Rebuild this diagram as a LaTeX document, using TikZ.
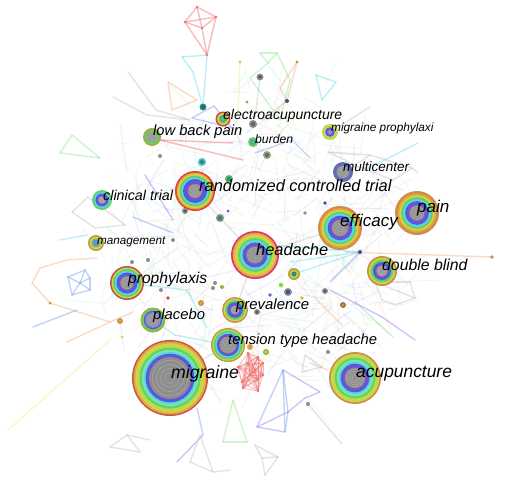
\documentclass[tikz,border=0pt]{standalone}
\usepackage{fontspec}
\setmainfont{Liberation Sans}
\definecolor{cbrown}{HTML}{B95A48}
\definecolor{cred}{HTML}{D8423A}
\definecolor{cmag}{HTML}{E0307A}
\definecolor{ctan}{HTML}{C8904A}
\definecolor{corange}{HTML}{EBA43C}
\definecolor{cyel}{HTML}{D6D248}
\definecolor{clime}{HTML}{B2DE50}
\definecolor{cgreen}{HTML}{62D262}
\definecolor{cmint}{HTML}{7CE6AA}
\definecolor{ccyan}{HTML}{5CD4E4}
\definecolor{csky}{HTML}{70A8F0}
\definecolor{cblue}{HTML}{4C5EDE}
\definecolor{cpurp}{HTML}{7A50D0}
\definecolor{clav}{HTML}{A68AD6}
\definecolor{cgray}{HTML}{8E8E8E}
\definecolor{cteal}{HTML}{2E8B78}
\definecolor{colive}{HTML}{A8A840}
\definecolor{cnavy}{HTML}{4A4A8A}
\definecolor{egray}{HTML}{C4C4C4}
\definecolor{ered}{HTML}{F06A6A}
\definecolor{ecyan}{HTML}{6EDCEE}
\definecolor{egreen}{HTML}{8EEA8E}
\definecolor{eorange}{HTML}{F3B384}
\definecolor{eblue}{HTML}{78A2F0}
\definecolor{epurp}{HTML}{9A7EF0}
\definecolor{eyel}{HTML}{EEEE8A}
\newcommand\kwdraw[4]{%
  \foreach \rf/\rcol in {#3}{\fill[\rcol] (#1.center) circle[radius={\rf*#2*1pt}];}
  \foreach \k in {0.85,0.65,0.45,0.25}{\draw[white,draw opacity=0.25,line width=0.5pt] (#1.center) circle[radius={\k*#4*#2*1pt}];}
}
\begin{document}
\begin{tikzpicture}[x=1pt,y=-1pt,
  edge/.style={line width=1.4pt, draw opacity=0.45, line cap=round, line join=round},
  haze/.style={line width=1pt, draw opacity=0.16, line cap=round},
  kw/.style={circle, inner sep=0pt, outer sep=0pt},
  kwtext/.style={font=\fontsize{#1}{#1}\selectfont\itshape, anchor=west, inner sep=0pt, text=black}]
\useasboundingbox (0,0) rectangle (510,487);
\fill[white] (0,0) rectangle (510,487);
% keyword nodes (placeholders)
\foreach \n/\x/\y/\r in {migraine/170/378/38, acup/355/378/26, tension/228/345/17, placebo/153/320/12.5,
  prophy/127/283/17, preval/235/310/13, dblind/382/271/15, headache/255/255/24, efficacy/340/228/22,
  pain/417/213/22, multi/343/172/10, migproph/330/132/8, rct/195/191/20, clinical/102/200/10,
  lbp/152/137/9, electro/223/119/7.5, burden/253/142/5, manage/96/243/8}
  {\node[kw,minimum size={2*\r}] (\n) at (\x,\y) {};}
% haze of faint links
\pgfmathdeclarerandomlist{hazecols}{{egray}{egray}{egray}{egray}{egray}{egreen}{ecyan}{eorange}{eblue}{epurp}{eyel}}
\pgfmathsetseed{4242}
\foreach \i in {1,...,520}{
  \pgfmathsetmacro\ang{360*rnd}
  \pgfmathsetmacro\rr{0.5*rnd+0.5*sqrt(rnd)}
  \pgfmathsetmacro\px{262+175*\rr*cos(\ang)}
  \pgfmathsetmacro\py{240+170*\rr*sin(\ang)}
  \pgfmathsetmacro\la{360*rnd}
  \pgfmathsetmacro\ll{10+38*rnd}
  \pgfmathrandomitem\hc{hazecols}
  \draw[haze,\hc] (\px,\py) -- ++(\la:\ll);
}
% named link end points
\foreach \n/\x/\y in {ra/197/7, rb/185/22, rc/216/17, rd/202/28, re/207/55,
  ca/182/57, cb/193/72, cc/203/107,
  ga/128/72, gb/156/110, gc/113/97, gd/147/115, ge/190/120,
  oa/168/82, ob/197/100, oc/172/110,
  la/72/135, lb/60/153, lc/100/158,
  xa/72/212, xb/88/197, xc/95/228, xd/125/225,
  pa/145/175, pb/173/220, pc/133/217, pd/173/233,
  ka/160/140, kb/243/160, kc/233/143,
  ua/192/118, ub/214/106, uc/232/128,
  na/260/53, nb/277/53, nc/290/80, nd/268/63, ne/250/78, nf/280/120,
  qa/297/62, qb/280/88, qc/287/101, qd/262/120,
  ya/240/62, yb/238/113, gga/260/77, ggb/255/118,
  sa/316/75, sb/336/82, sc/322/100, ha/370/107, hb/338/127,
  ba/255/153, bb/292/140, bc/310/158,
  ta/328/152, tb/370/155, tc/355/165, td/412/168, te/393/180, tf/418/173,
  ia/418/143, ib/365/170,
  fa/360/252, fb/290/262, fc/300/272, fd/330/282, fe/270/245,
  ja/355/302, jb/393/337, va/382/317, vb/415/340, vc/330/290,
  wa/375/282, wb/410/282, wc/415/298, wd/395/305, we/382/300,
  za/345/252, zb/492/257, zc/315/298, zd/342/325,
  bla/283/370, blb/288/412, blc/257/427, bld/285/432, ble/320/392, blf/305/398,
  gma/262/458, gmb/278/457, gmc/265/475, gmd/255/445,
  gna/308/404, gnb/342/444, gta/305/355, gtb/322/367, gtc/302/372,
  pka/310/363, pkb/328/370,
  gya/110/447, gyb/127/435, gyc/140/452, gyd/150/440,
  pua/177/462, pub/203/435, puc/197/408,
  gza/190/462, gzb/213/472, gzc/200/435, gzd/230/470,
  gwa/233/400, gwb/223/442, gwc/247/442,
  oLa/32/283, oLb/40/268, oLc/67/260, oLd/50/303, oLe/67/342, oLf/110/322, oLg/133/312, oLh/97/258,
  bfa/68/277, bfb/85/270, bfc/90/278, bfd/72/295, bfe/90/290, bff/80/283,
  lva/33/327, lvb/77/310, yea/8/430, yeb/110/340,
  cla/60/240, clb/87/235, cqa/187/290, cqb/207/328, cqc/175/335}
  {\coordinate (\n) at (\x,\y);}
% links
\foreach \a/\b/\ec in {ra/rb/ered, ra/rc/ered, ra/rd/ered, rb/rd/ered, rc/rd/ered, rb/re/ered, rc/re/ered, rd/re/ered, rb/rc/ered,
  ca/re/ecyan, ca/cb/ecyan, cb/cc/ecyan, re/cc/ecyan,
  ga/gb/egray, gc/gd/egray, gb/ge/egray, gd/ge/egray,
  oa/ob/eorange, oa/oc/eorange, ob/oc/eorange,
  la/lb/egreen, lb/lc/egreen, la/lc/egreen,
  xa/xb/egray, xa/xc/egray, xb/xd/egray, xc/xd/egray,
  pa/pb/epurp, pc/pd/eblue, ka/kb/ered, ka/kc/ered,
  ua/ub/eblue, ua/uc/eblue, ub/uc/epurp,
  na/nb/egreen, na/nd/egreen, nb/nd/egreen, nb/nc/egreen, nd/ne/egreen, nc/nf/egreen, ne/nf/egreen,
  qa/qb/eorange, qb/qc/eorange, qa/qc/eorange, qc/qd/eorange,
  ya/yb/eyel, gga/ggb/egray,
  sa/sb/ecyan, sb/sc/ecyan, sa/sc/ecyan, ha/hb/egray,
  ba/bb/eblue, bb/bc/eblue,
  ta/tb/egray, tb/tc/egray, ta/tc/egray, tb/td/egray, td/te/egray, te/tc/egray, td/tf/egray,
  ia/ib/ecyan, fa/fb/ecyan, fa/fc/ecyan, fa/fd/eblue, fa/fe/ecyan,
  ja/jb/egreen, va/vb/epurp, vc/va/epurp,
  wa/wb/egray, wb/wc/egray, wc/wd/egray, wd/we/egray, we/wa/egray, wa/wc/egray,
  za/zb/eorange, zc/zd/eorange,
  bla/blc/eblue, bla/blb/eblue, bla/bld/eblue, blc/bld/epurp, blb/bld/eblue, blc/blb/epurp,
  bla/ble/epurp, ble/blf/epurp, blf/blb/epurp,
  gmd/gma/egray, gma/gmb/egray, gma/gmc/egray, gmb/gmc/egray, gmd/gmb/egray,
  gna/gnb/egray, gta/gtb/egray, gtb/gtc/egray, gta/gtc/egray, pka/pkb/eorange,
  gya/gyb/egray, gyb/gyc/egray, gya/gyc/egray, gyb/gyd/egray,
  pua/pub/epurp, puc/pub/eblue,
  gza/gzc/egray, gzc/gzb/egray, gza/gzb/egray, gzb/gzd/egray,
  gwa/gwb/egreen, gwa/gwc/egreen, gwb/gwc/egreen,
  oLa/oLb/eorange, oLb/oLc/eorange, oLc/oLh/eorange, oLa/oLd/eorange, oLd/oLf/eorange, oLe/oLf/eorange, oLf/oLg/eorange,
  bfa/bfb/eblue, bfb/bfc/eblue, bfa/bfd/eblue, bfd/bfe/eblue, bfc/bfe/eblue, bfa/bff/eblue, bff/bfc/eblue, bff/bfe/eblue, bfb/bff/eblue, bfd/bff/eblue,
  lva/lvb/eblue, yea/yeb/eyel, cla/clb/ecyan,
  prophy/cqa/ecyan, cqa/cqb/ecyan, placebo/cqc/ecyan, cqc/tension/ecyan,
  migraine/tension/egray, headache/efficacy/egray, rct/headache/egray, headache/preval/egray}
  {\draw[edge,\ec] (\a) -- (\b);}
% dense red cluster
\foreach \n/\x/\y in {rra/248/353, rrb/258/357, rrc/263/363, rrd/238/367, rre/248/363, rrf/255/370,
  rrg/242/382, rrh/258/380, rri/263/375, rrj/243/388, rrk/258/391, rrl/250/375}
  {\coordinate (\n) at (\x,\y);}
\foreach \p [count=\i] in {rra,rrb,rrc,rrd,rre,rrf,rrg,rrh,rri,rrj,rrk,rrl}{
  \foreach \q [count=\j] in {rra,rrb,rrc,rrd,rre,rrf,rrg,rrh,rri,rrj,rrk,rrl}{
    \ifnum\i<\j \draw[edge,ered,line width=0.8pt,draw opacity=0.45] (\p) -- (\q);\fi}}
\foreach \p in {rra,rrb,rrc,rrd,rre,rrf,rrg,rrh,rri,rrj,rrk,rrl,ra,rb,rc,rd,re}
  {\fill[cred!70] (\p) circle[radius=1.3pt];}
% keyword rings
\kwdraw{migraine}{38}{1/cbrown,.96/corange,.91/cyel,.86/clime,.80/cgreen,.74/cmint,.69/ccyan,.64/cblue,.58/cpurp,.55/cgray}{.55}
\kwdraw{acup}{26}{1/ctan,.93/cyel,.86/clime,.78/cgreen,.70/cmint,.62/ccyan,.55/cblue,.48/cpurp,.40/cgray}{.40}
\kwdraw{efficacy}{22}{1/ctan,.9/corange,.82/cyel,.74/cgreen,.66/ccyan,.56/cblue,.48/cpurp,.38/cgray}{.38}
\kwdraw{pain}{22}{1/ctan,.88/corange,.80/cyel,.72/cgreen,.63/ccyan,.54/cblue,.45/cpurp,.35/cgray}{.35}
\kwdraw{headache}{24}{1/cmag,.93/corange,.85/cyel,.77/clime,.70/cgreen,.62/ccyan,.52/cblue,.44/cpurp,.36/cgray}{.36}
\kwdraw{rct}{20}{1/cred,.92/corange,.85/cyel,.77/cgreen,.68/ccyan,.60/cblue,.45/cpurp,.36/cgray}{.36}
\kwdraw{tension}{17}{1/ctan,.92/clime,.84/cgreen,.74/ccyan,.66/cblue,.58/cpurp,.50/cgray}{.5}
\kwdraw{prophy}{17}{1/cbrown,.9/cyel,.82/cgreen,.72/ccyan,.62/cblue,.50/cpurp,.40/cgray}{.4}
\kwdraw{dblind}{15}{1/ctan,.88/cyel,.76/cgreen,.6/cblue,.48/cpurp,.38/cgray}{.38}
\kwdraw{preval}{13}{1/ctan,.88/cyel,.76/cgreen,.6/cblue,.45/cpurp,.35/cgray}{.35}
\kwdraw{placebo}{12.5}{1/colive,.88/cgreen,.74/cblue,.62/clav,.5/cgray}{.5}
\kwdraw{clinical}{10}{1/cgreen,.8/ccyan,.65/cblue,.5/cpurp,.38/cgray}{.38}
\kwdraw{lbp}{9}{1/colive,.8/cgreen,.6/cgray}{.6}
\kwdraw{manage}{8}{1/ctan,.8/cyel,.6/cgreen,.4/cblue}{.4}
\kwdraw{electro}{7.5}{1/cred,.8/cyel,.6/cgreen,.4/cteal}{.4}
\kwdraw{migproph}{8}{1/clime,.75/cyel,.6/cblue,.35/cpurp}{.35}
\kwdraw{multi}{10}{1/cblue!60!gray,.65/cgray}{.65}
\kwdraw{burden}{5}{1/cgreen,.6/cteal}{.6}
% small nodes
\foreach \n/\x/\y/\r/\ca/\cb in {da/203/107/3.5/cteal/cteal!70!black, db/260/77/3.5/cgray/cgray!60!black,
  dc/240/62/1.6/cyel/cyel, dd/297/62/1.6/ctan/ctan, de/247/102/1.6/ctan/ctan, df/287/101/2/cnavy/cnavy,
  dg/253/124/4/cgray/cgray!70!black, dh/267/155/4/colive/cblue, di/202/162/4/ccyan!70!cteal/cteal,
  dj/160/156/2/cgray/cgray, dk/229/179/4/cgreen!70!cteal/cteal, dl/220/218/4/cgray/cteal,
  dm/185/211/3/cgray/cgray!60!black, dn/228/211/1.5/cblue/cblue, do/294/274/6/colive/cteal,
  dp/288/292/4/cgray/cnavy, dq/281/285/2.5/clime/cgreen, dr/325/291/3/cgray/cgray!60!black,
  ds/343/305/3/ctan!80!black/ctan, dt/360/252/2/cnavy/cnavy, du/201/303/3/ctan/corange,
  dv/120/321/3/ctan/corange, dw/122/337/1.5/cyel/cyel, dx/50/303/1.5/ctan/ctan,
  dy/257/312/3/cgray/cgray!60!black, dz/250/347/3/corange/ctan, dA/266/352/3/colive/clime,
  dB/308/404/2/cgray/cgray, dC/328/352/2/cgray/cgray, dD/215/283/2/cgray/cgray,
  dE/132/262/2/cgray/cgray, dF/148/260/2/cgray/cgray, dG/168/298/1.8/cred/cred,
  dH/213/288/2/cgray/cgray, dI/222/287/2/colive/colive, dJ/173/240/2/cgray/cgray,
  dK/492/257/1.8/ctan/ctan, dL/161/290/2/cgray/cgray, dM/325/203/1.8/cnavy/cnavy,
  dN/305/213/1.8/cgray/cgray, dO/270/295/1.8/cpurp/cpurp, dP/302/298/1.8/corange/corange}
  {\node[kw,minimum size={2*\r}] (\n) at (\x,\y) {};
   \fill[\ca] (\n.center) circle[radius={\r*1pt}];
   \fill[\cb] (\n.center) circle[radius={0.55*\r*1pt}];}
\fill[cyel] (do.center) circle[radius=4.2pt];
\fill[cteal] (do.center) circle[radius=2.6pt];
% labels
\node[kwtext=14] (telectro) at (223,116) {electroacupuncture};
\node[kwtext=14.7] (tlbp) at (153,132) {low back pain};
\node[kwtext=12.2] (tburden) at (255,139) {burden};
\node[kwtext=11.8] (tmigproph) at (331,128) {migraine prophylaxi};
\node[kwtext=13.5] (tmulti) at (343,167) {multicenter};
\node[kwtext=16.4] (trct) at (199,186) {randomized controlled trial};
\node[kwtext=14.3] (tclinical) at (103,195) {clinical trial};
\node[kwtext=17] (tefficacy) at (340,222) {efficacy};
\node[kwtext=17] (tpain) at (417,208) {pain};
\node[kwtext=11.7] (tmanage) at (97,242) {management};
\node[kwtext=16.4] (theadache) at (256,250) {headache};
\node[kwtext=15.8] (tdblind) at (382,265) {double blind};
\node[kwtext=15.6] (tprophy) at (128,279) {prophylaxis};
\node[kwtext=14.8] (tplacebo) at (153,316) {placebo};
\node[kwtext=14.9] (tpreval) at (236,306) {prevalence};
\node[kwtext=14.8] (ttension) at (228,341) {tension type headache};
\node[kwtext=17.7] (tmigraine) at (171,374) {migraine};
\node[kwtext=17.4] (tacup) at (356,374) {acupuncture};
\end{tikzpicture}
\end{document}
